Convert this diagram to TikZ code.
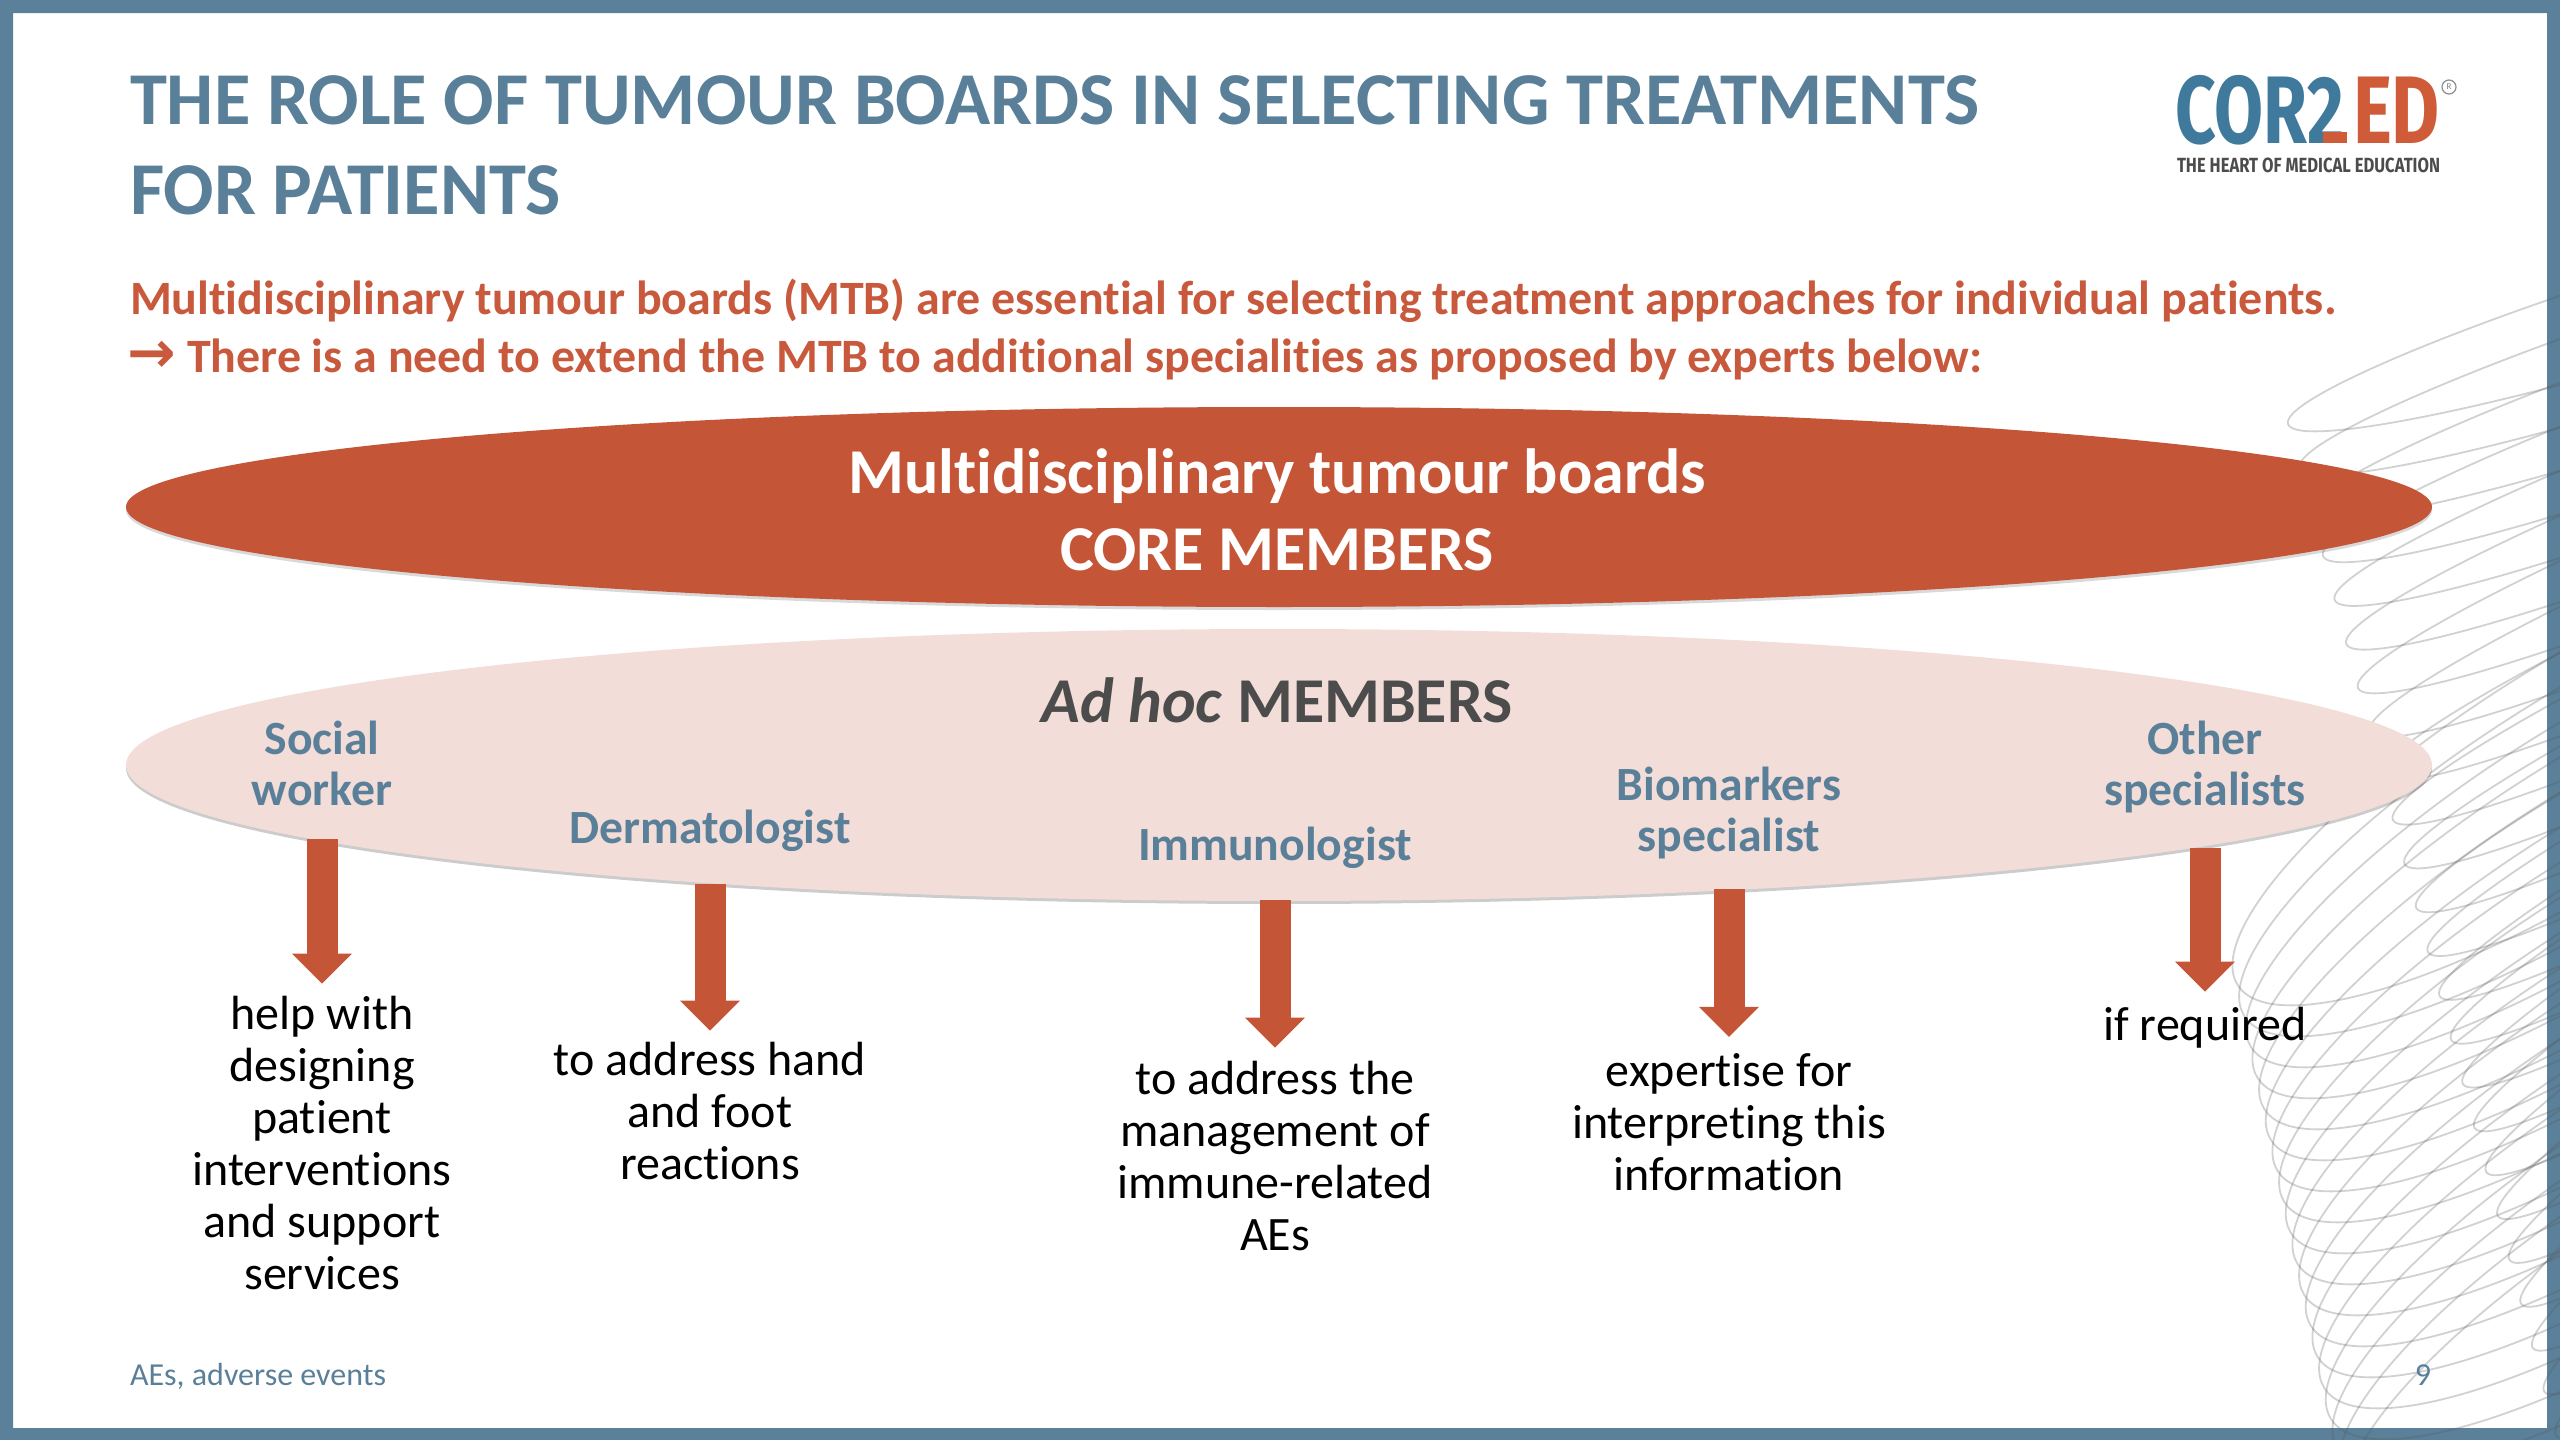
\documentclass[tikz,border=0pt]{standalone}
\usepackage{fontspec}
\setmainfont{Carlito}[Ligatures=NoCommon]
\newfontfamily\arrowfont{DejaVu Sans}
\newfontfamily\logofont{Fira Sans}
\usetikzlibrary{arrows.meta,shadows}
\definecolor{frameblue}{HTML}{5B8099}
\definecolor{titleblue}{HTML}{5A7F99}
\definecolor{labelblue}{HTML}{5A8099}
\definecolor{brick}{HTML}{C55537}
\definecolor{redtext}{HTML}{C8593C}
\definecolor{pinkfill}{HTML}{F3DDD8}
\definecolor{logoblue}{HTML}{3F7A9C}
\definecolor{logored}{HTML}{CF5B38}
\newcommand{\fsz}[2]{\fontsize{#1pt}{#2pt}\selectfont}
\tikzset{
  every node/.style={inner sep=0pt,outer sep=0pt},
  squiggle/.style={draw=black!65,draw opacity=.28,line width=1.8pt},
  titletext/.style={anchor=base west,text=titleblue,font=\fsz{74.6}{90}\bfseries},
  subtext/.style={anchor=base west,text=redtext,font=\fsz{47.9}{59}\bfseries},
  coretext/.style={text=white,font=\fsz{63.9}{77}\bfseries,align=center},
  lab/.style={text=labelblue,font=\fsz{47.7}{51}\bfseries,align=center,anchor=base},
  desc/.style={text=black,font=\fsz{48}{52},align=center,anchor=base},
  foot/.style={text=labelblue,font=\fsz{32}{36},anchor=base},
  blockarrow/.style={draw=brick,line width=31pt,-{Triangle[length=30pt,width=58pt,fill=brick]}},
}
\begin{document}
\begin{tikzpicture}[x=1pt,y=-1pt]
\useasboundingbox (0,0) rectangle (2560,1440);
\fill[frameblue,even odd rule] (0,0) rectangle (2560,1440) (13,13) rectangle (2547,1428);
% spirograph
\begin{scope}
\clip (0,0) rectangle (2560,1440);
\foreach \i in {0,...,23}{
  \pgfmathsetmacro\ly{424+44*\i}
  \pgfmathsetmacro\lx{2288+(\ly-424)*0.265}
  \pgfmathsetmacro\th{17+\i*0.9}
  \pgfmathsetmacro\cx{\lx+420*cos(\th)}
  \pgfmathsetmacro\cy{\ly-420*sin(\th)}
  \draw[squiggle,shift={(\cx,\cy)},rotate=\th] (0,0) ellipse [x radius=420,y radius=45];
}
\foreach \i in {0,...,17}{
  \pgfmathsetmacro\ly{985+31*\i}
  \pgfmathsetmacro\lx{2223+(\ly-917)*0.215}
  \pgfmathsetmacro\th{32}
  \pgfmathsetmacro\cx{\lx+400*cos(\th)}
  \pgfmathsetmacro\cy{\ly-400*sin(\th)}
  \draw[squiggle,shift={(\cx,\cy)},rotate=\th] (0,0) ellipse [x radius=400,y radius=112];
}
\end{scope}
% title
\node[titletext] (title1) at (130,124) {THE ROLE OF TUMOUR BOARDS IN SELECTING TREATMENTS};
\node[titletext] (title2) at (130,214) {FOR PATIENTS};
\node[subtext] (sub1) at (130,314) {Multidisciplinary tumour boards (MTB) are essential for selecting treatment approaches for individual patients.};
\node[subtext] (sub2) at (130,372) {\makebox[57pt][l]{\hspace{-3pt}{\arrowfont\fontsize{58pt}{59pt}\selectfont →}}There is a need to extend the MTB to additional specialities as proposed by experts below:};
% logo
\node[anchor=base west,text=logoblue,font=\logofont\bfseries\fontsize{96pt}{96pt}\selectfont,xscale=.74] (logoA) at (2175,143) {COR2};
\node[anchor=base east,text=logored,font=\logofont\bfseries\fontsize{96pt}{96pt}\selectfont,xscale=.77] (logoB) at (2440,143) {ED};
\fill[logored] (2323,132) rectangle (2347,143);
\node[anchor=base west,text=black!70,font=\logofont\bfseries\fontsize{20.5pt}{20pt}\selectfont,xscale=.81] (tagline) at (2177,172) {THE HEART OF MEDICAL EDUCATION};
\node[circle,draw=black!45,line width=1.2pt,minimum size=14pt,text=black!50,font=\fsz{9}{9}] (reg) at (2449,87) {R};
% ellipses
\path[fill=brick,drop shadow={shadow xshift=0pt,shadow yshift=-3pt,opacity=.15,fill=black}] (1279,507) ellipse [x radius=1153,y radius=100];
\path[fill=pinkfill,drop shadow={shadow xshift=0pt,shadow yshift=-3pt,opacity=.2,fill=black}] (1279,765) ellipse [x radius=1153,y radius=136];
\node[coretext,anchor=base] (core) at (1277,570) {Multidisciplinary tumour boards\\CORE MEMBERS};
\node[anchor=base,text=black!70,font=\fsz{63.9}{60}\bfseries] (adhoc) at (1277,722) {\textit{Ad hoc} MEMBERS};
% labels
\node[lab] (l1) at (322,805) {Social\\worker};
\node[lab] (l2) at (710,843) {Dermatologist};
\node[lab] (l3) at (1275,860) {Immunologist};
\node[lab] (l4) at (1729,851) {Biomarkers\\specialist};
\node[lab] (l5) at (2205,805) {Other\\specialists};
% descriptions
\node[desc] (d1) at (322,1289) {help with\\designing\\patient\\interventions\\and support\\services};
\node[desc] (d2) at (710,1179) {to address hand\\and foot\\reactions};
\node[desc] (d3) at (1275,1250) {to address the\\management of\\immune-related\\AEs};
\node[desc] (d4) at (1729,1190) {expertise for\\interpreting this\\information};
\node[desc] (d5) at (2205,1040) {if required};
% arrows
\draw[blockarrow,shorten <=34pt,shorten >=12pt] (l1.south) -- (d1.north);
\draw[blockarrow,shorten <=33pt,shorten >=11pt] (l2.south) -- (d2.north);
\draw[blockarrow,shorten <=32pt,shorten >=13pt] (l3.south) -- (d3.north);
\draw[blockarrow,shorten <=30pt,shorten >=16pt] (l4.south) -- (d4.north);
\draw[blockarrow,shorten <=35pt,shorten >=15pt] (l5.south) -- (d5.north);
% footer
\node[foot,anchor=base west] (fn) at (130,1385) {AEs, adverse events};
\node[foot] (pg) at (2423,1385) {9};
\end{tikzpicture}
\end{document}
